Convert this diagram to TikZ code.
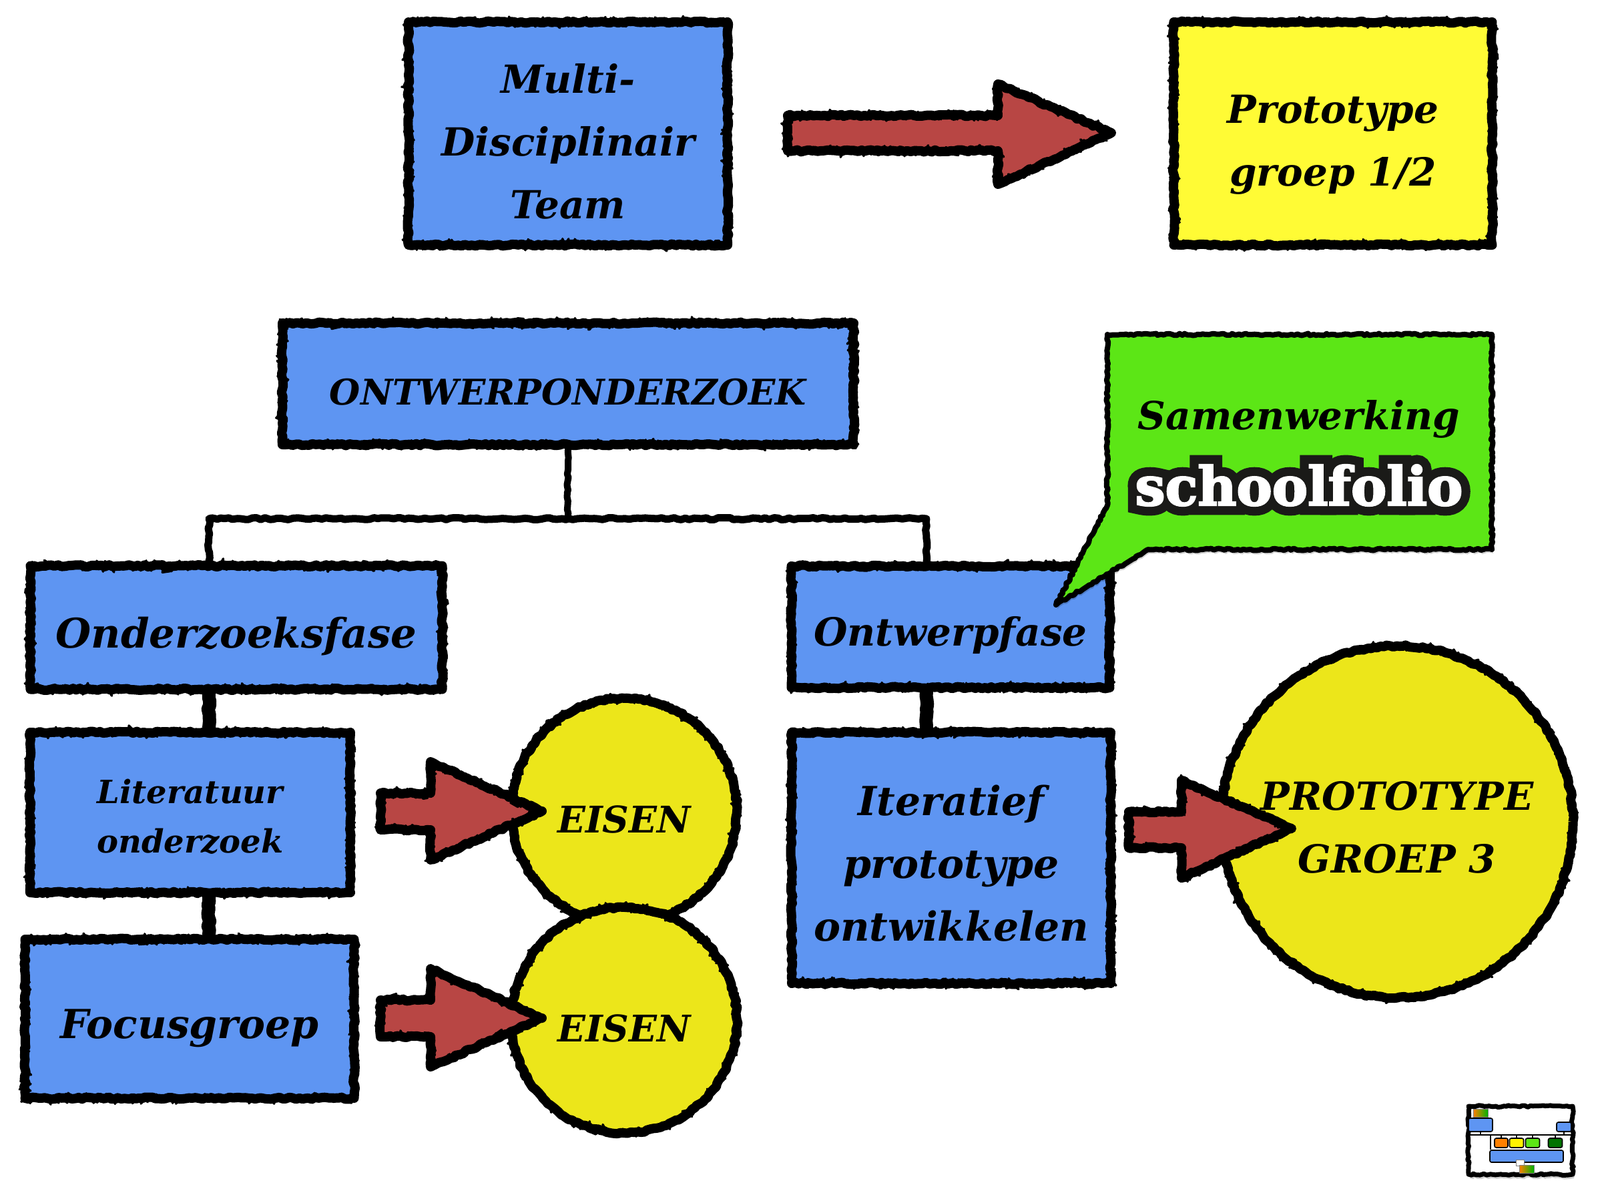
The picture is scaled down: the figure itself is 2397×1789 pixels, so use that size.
\documentclass[tikz,border=0pt]{standalone}
\usepackage{fontspec}
\setmainfont{DejaVu Serif}
\newfontfamily\logofont{DejaVu Serif Bold}[FakeBold=3]
\newfontfamily\logoback{DejaVu Serif Bold}[FakeBold=36]
\usetikzlibrary{decorations.pathmorphing,shadows}
\definecolor{boxblue}{HTML}{5E95F2}
\definecolor{boxyellow}{HTML}{FFFB35}
\definecolor{roundyellow}{HTML}{ECE61A}
\definecolor{bubblegreen}{HTML}{5CE616}
\definecolor{arrowred}{HTML}{B84644}
\newcommand\low[2][12pt]{\raisebox{-#1}[\height][\depth]{#2}}
\begin{document}
\begin{tikzpicture}[x=1pt, y=-1pt,
 rough/.style = {draw=black, line width=14pt, line join=round,
                 decorate, decoration={random steps, segment length=5pt, amplitude=1.5pt},
                 postaction={draw=black, line width=3.5pt, line join=round, decorate,
                             decoration={random steps, segment length=2.5pt, amplitude=8pt}},
                 drop shadow={shadow xshift=2pt, shadow yshift=-7pt, opacity=.18, fill=black}},
  fine/.style = {draw=black, line width=8pt, line join=round,
                 decorate, decoration={random steps, segment length=4pt, amplitude=1.5pt},
                 drop shadow={shadow xshift=2pt, shadow yshift=-6pt, opacity=.18, fill=black}},
  size/.style = {font=\bfseries\itshape\fontsize{#1}{94}\selectfont},
 caption/.style = {align=center, inner sep=0pt, size=#1},
 block/.style = {rough, fill=boxblue, rectangle, inner sep=0pt, align=center, size=58,
                 execute at begin node={\rule{0pt}{1.2em}}},
 round/.style = {rough, fill=roundyellow, circle, inner sep=0pt, align=center, size=55,
                 execute at begin node={\rule{0pt}{1.2em}}},
  link/.style = {draw=black, line width=#1, line cap=round, line join=round, decorate,
                 decoration={random steps, segment length=6pt, amplitude=1.5pt}},
 thick arrow/.style = {rough, fill=arrowred},
   map/.style = {draw=black, line width=1.6pt, rounded corners=2.5pt, minimum width=#1, inner sep=0pt}
                    ]
\useasboundingbox (0,0) rectangle (2397,1789);

% top row
\node (team) [block, minimum width=478pt, minimum height=334pt] at (851,200) {\low{Multi-}\\\low{Disciplinair}\\\low{Team}};
\node (proto) [block, fill=boxyellow, minimum width=477pt, minimum height=334pt] at (1997,200) {\low[17pt]{Prototype}\\\low[17pt]{groep 1/2}};

% tree
\coordinate (busL) at (313,777);
\coordinate (busR) at (1388,777);
\coordinate (busM) at (850,777);
\node (research) [block, size=53, minimum width=856pt, minimum height=182pt] at (851,575) {ONTWERPONDERZOEK};
\node (phaseA) [block, size=61, minimum width=617pt, minimum height=185pt] at (354,940) {Onderzoeksfase};
\node (phaseB) [block, minimum width=477pt, minimum height=182pt] at (1424,939) {Ontwerpfase};
\node (books) [block, minimum width=480pt, minimum height=240pt, font=\bfseries\itshape\fontsize{48}{74}\selectfont] at (285,1217) {\low[6pt]{Literatuur}\\\low[6pt]{onderzoek}};
\node (group) [block, size=60, minimum width=493pt, minimum height=238pt] at (284,1526) {Focusgroep};
\node (iterate) [block, size=60, minimum width=478pt, minimum height=376pt] at (1425,1285) {\low[8pt]{Iteratief}\\\low[8pt]{prototype}\\\low[8pt]{ontwikkelen}};

\draw[link=10pt] (research.south) -- (busM);
\draw[link=11pt] (busL |- phaseA.north) -- (busL) -- (busR) -- (busR |- phaseB.north);
\draw[link=20pt] (busL |- phaseA.south) -- (busL |- books.north);
\draw[link=20pt] (busL |- books.south) -- (busL |- group.north);
\draw[link=20pt] (busR |- phaseB.south) -- (busR |- iterate.north);

% circles
\node (needsA) [round, minimum size=338pt] at (935,1215) {EISEN};
\node (needsB) [round, minimum size=338pt] at (935,1528) {EISEN};
\node (result) [round, size=58, minimum size=527pt] at (2093,1231) {\low[8pt]{PROTOTYPE}\\\low[8pt]{GROEP 3}};

% arrows
\draw[thick arrow] (1180,173) -- (1495,173) -- (1495,126) -- (1665,199) -- (1495,276) -- (1495,226) -- (1180,226) -- cycle;
\draw[thick arrow] (570,1188) -- (645,1188) -- (645,1141) -- (812,1215) -- (645,1288) -- (645,1243) -- (570,1243) -- cycle;
\draw[thick arrow] (570,1498) -- (645,1498) -- (645,1451) -- (812,1525) -- (645,1598) -- (645,1553) -- (570,1553) -- cycle;
\draw[thick arrow] (1691,1216) -- (1770,1216) -- (1770,1169) -- (1935,1241) -- (1770,1315) -- (1770,1270) -- (1691,1270) -- cycle;

% speech bubble
\draw[fine, fill=bubblegreen]
  (1659,501) -- (2235,501) -- (2235,823) -- (1720,823) -- (1582,906) -- (1659,757) -- cycle;
\node (together) [caption=58] at (1946,628) {Samenwerking};
\node (logo) [inner sep=0pt, font=\fontsize{80}{80}\selectfont] at (1946,727)
  {\rlap{\logoback\color[HTML]{1A1A18}schoolfolio}\logofont\color{white}schoolfolio};

% overview
\node (overview) [fine, line width=7pt, fill=white, minimum width=156pt, minimum height=102pt, inner sep=0pt] at (2278,1708) {};
\coordinate (mapL) at (2200,1700);
\coordinate (mapR) at (2354,1700);
\coordinate (mapT) at (2233,1700);
\node (mapA) [map=36pt, minimum height=20pt, fill=boxblue] at (2218,1685) {};
\node (mapB) [map=22pt, minimum height=14pt, fill=boxblue] at (2343,1688) {};
\node (mapC) [map=110pt, minimum height=18pt, fill=boxblue] at (2287,1732) {};
\draw[draw=black, line width=1.6pt] (mapL) -- (mapR) (mapA.south) -- (mapA.south |- mapL) (mapB.south) -- (mapB.south |- mapR) (mapT) -- (mapT |- mapC.north);
\foreach \name/\mid/\wide/\col in {phase1/2249/20/orange, phase2/2272/21/yellow, phase3/2296/21/bubblegreen, phase4/2330/21/green!45!black}
  {
  \node (\name) [map=\wide pt, minimum height=14pt, fill=\col] at (\mid,1712) {};
  \draw[draw=black, line width=1.6pt] (\name.north) -- (\name.north |- mapL);
  }
\node (mapD) [draw=gray, line width=1pt, inner sep=0pt, minimum width=22pt, minimum height=12pt, left color=orange, right color=green!70!black] at (2218,1667) {};
\node (mapE) [draw=gray, line width=.6pt, fill=white, inner sep=0pt, minimum width=12pt, minimum height=9pt] at (2277,1742) {};
\node (mapF) [draw=gray, line width=1pt, inner sep=0pt, minimum width=22pt, minimum height=12pt, left color=orange, right color=green!70!black] at (2287,1751) {};
\end{tikzpicture}
\end{document}
